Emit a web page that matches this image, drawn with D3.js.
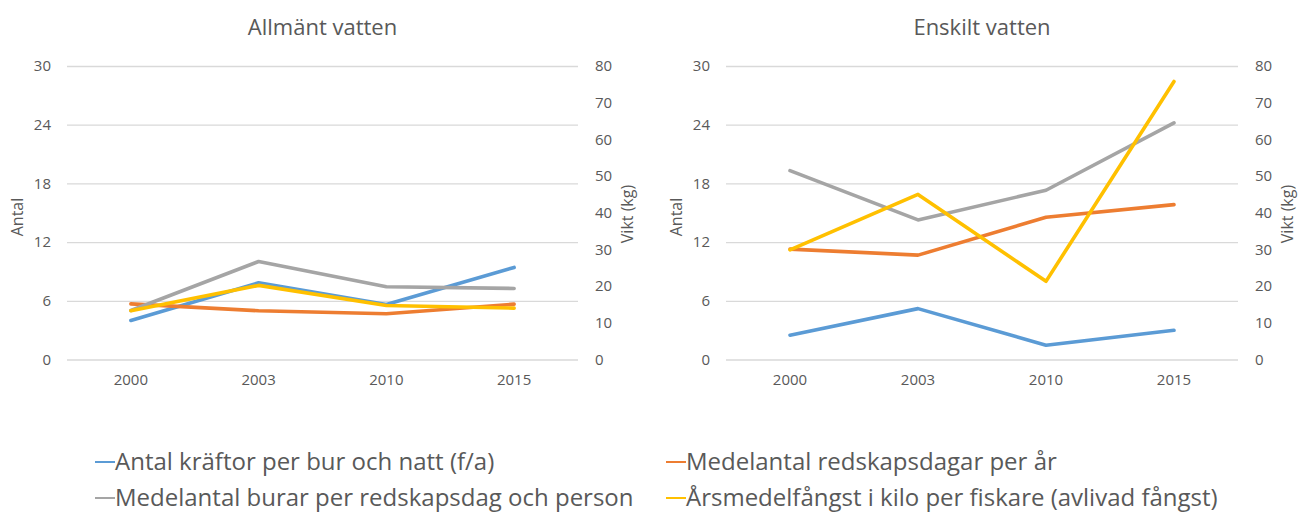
<!DOCTYPE html>
<html>
<head>
<meta charset="utf-8">
<script src="https://cdn.jsdelivr.net/npm/d3@7/dist/d3.min.js"></script>
<style>
body { margin:0; background:#fff; }
text { font-family:"Open Sans", sans-serif; fill:#595959; }
</style>
</head>
<body>
<svg id="chart"></svg>
<script>
var years = ["2000", "2003", "2010", "2015"];
var antalTicks = [0, 6, 12, 18, 24, 30];
var viktTicks = [0, 10, 20, 30, 40, 50, 60, 70, 80];
var titles = ["Allmänt vatten", "Enskilt vatten"];
var seriesNames = [
    "Antal kräftor per bur och natt (f/a)",
    "Medelantal redskapsdagar per år",
    "Medelantal burar per redskapsdag och person",
    "Årsmedelfångst i kilo per fiskare (avlivad fångst)"
];
var colors = ["#5B9BD5", "#ED7D31", "#A5A5A5", "#FFC000"];

// Allmänt vatten
var allmKraftor = [3.99, 7.84, 5.63, 9.41];
var allmDagar = [5.69, 4.98, 4.67, 5.66];
var allmBurar = [5.01, 10.02, 7.43, 7.26];
var allmFangst = [13.3, 20.2, 14.7, 14.0];   // kg, right axis

// Enskilt vatten
var ensKraftor = [2.48, 5.2, 1.46, 2.99];
var ensDagar = [11.28, 10.67, 14.54, 15.83];
var ensBurar = [19.3, 14.27, 17.3, 24.19];
var ensFangst = [29.9, 45.0, 21.3, 75.8];    // kg, right axis

var screen = {width:1298, height:512};
var plotTop = 66, plotBottom = 359.5;
var panels = [
    {x0:67, x1:578, title:titles[0], data:[allmKraftor, allmDagar, allmBurar, allmFangst]},
    {x0:726, x1:1238, title:titles[1], data:[ensKraftor, ensDagar, ensBurar, ensFangst]}
];

var svg = d3.select("#chart")
    .attr("width", screen.width)
    .attr("height", screen.height);

var drawPanel = function(p)
{
    var x = d3.scaleBand()
        .domain(years)
        .range([p.x0, p.x1]);
    var yLeft = d3.scaleLinear()
        .domain([0, 30])
        .range([plotBottom, plotTop]);
    var yRight = d3.scaleLinear()
        .domain([0, 80])
        .range([plotBottom, plotTop]);

    var g = svg.append("g");

    // gridlines
    g.append("g")
        .attr("transform", "translate(" + p.x0 + ",0)")
        .call(d3.axisLeft(yLeft).tickValues(antalTicks).tickSize(-(p.x1 - p.x0)).tickFormat(""))
        .call(function(a) { a.select(".domain").remove(); })
        .selectAll("line")
        .attr("stroke", "#d9d9d9")
        .attr("stroke-width", 1.3);

    // left axis labels
    g.append("g")
        .attr("transform", "translate(" + (p.x0 - 16) + ",0)")
        .call(d3.axisLeft(yLeft).tickValues(antalTicks).tickSize(0).tickPadding(0))
        .call(function(a) { a.select(".domain").remove(); })
        .selectAll("text")
        .style("font-size", "15px");

    // right axis labels
    g.append("g")
        .attr("transform", "translate(" + (p.x1 + 17) + ",0)")
        .call(d3.axisRight(yRight).tickValues(viktTicks).tickSize(0).tickPadding(0))
        .call(function(a) { a.select(".domain").remove(); })
        .selectAll("text")
        .style("font-size", "15px");

    // x axis labels
    g.append("g")
        .attr("transform", "translate(0," + plotBottom + ")")
        .call(d3.axisBottom(x).tickSize(0).tickPadding(15))
        .call(function(a) { a.select(".domain").remove(); })
        .selectAll("text")
        .style("font-size", "15px");

    g.selectAll(".tick text").attr("fill", "#595959");

    g.append("text")
        .attr("x", (p.x0 + p.x1) / 2)
        .attr("y", 35)
        .attr("text-anchor", "middle")
        .style("font-size", "22px")
        .text(p.title);

    g.append("text")
        .attr("transform", "translate(" + (p.x0 - 44) + "," + 217 + ") rotate(-90)")
        .attr("text-anchor", "middle")
        .style("font-size", "16px")
        .text("Antal");

    g.append("text")
        .attr("transform", "translate(" + (p.x1 + 55) + "," + 214 + ") rotate(-90)")
        .attr("text-anchor", "middle")
        .style("font-size", "16px")
        .text("Vikt (kg)");

    p.data.forEach(function(values, i)
    {
        var y = (i == 3) ? yRight : yLeft;
        var line = d3.line()
            .x(function(d, j) { return x(years[j]) + x.bandwidth() / 2; })
            .y(function(d) { return y(d); });
        g.append("path")
            .datum(values)
            .attr("d", line)
            .attr("fill", "none")
            .attr("stroke", colors[i])
            .attr("stroke-width", 3.6)
            .attr("stroke-linejoin", "round")
            .attr("stroke-linecap", "round");
    });
};

panels.forEach(drawPanel);

// legend
var legendPos = [[95, 462], [666, 462], [95, 498], [666, 498]];
var legend = svg.append("g");
seriesNames.forEach(function(name, i)
{
    var pos = legendPos[i];
    legend.append("line")
        .attr("x1", pos[0]).attr("x2", pos[0] + 20)
        .attr("y1", pos[1]).attr("y2", pos[1])
        .attr("stroke", colors[i])
        .attr("stroke-width", 2);
    legend.append("text")
        .attr("x", pos[0] + 20)
        .attr("y", pos[1])
        .attr("dy", "0.35em")
        .style("font-size", "24px")
        .text(name);
});
</script>
</body>
</html>
